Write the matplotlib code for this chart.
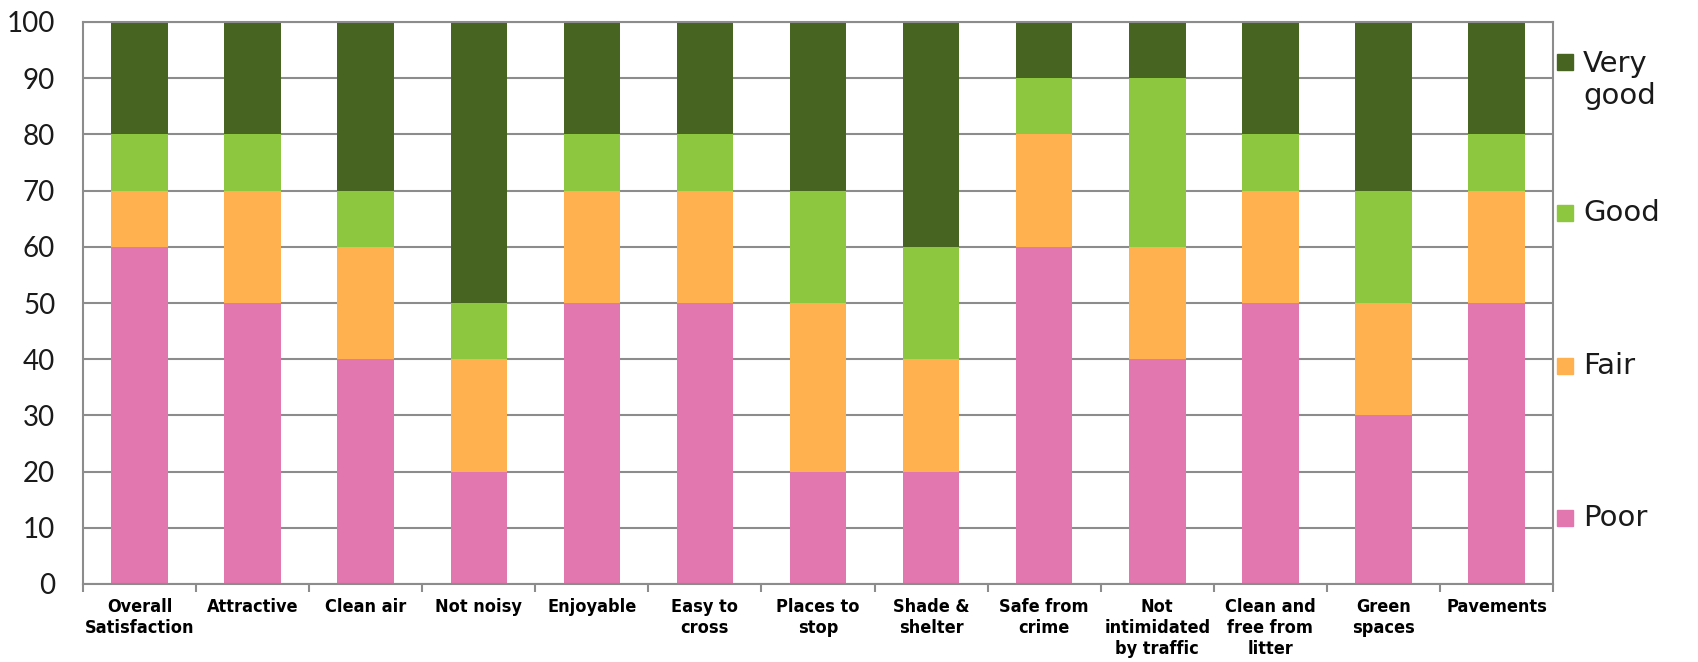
import matplotlib
matplotlib.use("Agg")
import matplotlib.pyplot as plt
from matplotlib.patches import Rectangle
import numpy as np

categories = [
    "Overall\nSatisfaction", "Attractive", "Clean air", "Not noisy", "Enjoyable",
    "Easy to\ncross", "Places to\nstop", "Shade &\nshelter", "Safe from\ncrime",
    "Not\nintimidated\nby traffic", "Clean and\nfree from\nlitter", "Green\nspaces",
    "Pavements",
]
poor = [60, 50, 40, 20, 50, 50, 20, 20, 60, 40, 50, 30, 50]
fair = [10, 20, 20, 20, 20, 20, 30, 20, 20, 20, 20, 20, 20]
good = [10, 10, 10, 10, 10, 10, 20, 20, 10, 30, 10, 20, 10]
very_good = [20, 20, 30, 50, 20, 20, 30, 40, 10, 10, 20, 30, 20]

series = [("Poor", poor, "#e276ae"), ("Fair", fair, "#ffb04f"),
          ("Good", good, "#8dc63f"), ("Very\ngood", very_good, "#476421")]

fig = plt.figure(figsize=(16.98, 6.62), dpi=100)
ax = fig.add_axes([83 / 1698, 1 - 584 / 662, 1470 / 1698, 562 / 662])

x = np.arange(len(categories))
bottom = np.zeros(len(categories))
for name, vals, color in series:
    ax.bar(x, vals, width=0.5, bottom=bottom, color=color, zorder=2)
    bottom += np.array(vals)

ax.set_xlim(-0.5, len(categories) - 0.5)
ax.set_ylim(0, 100)
ax.set_yticks(range(0, 101, 10))
ax.yaxis.grid(True, color="#8c8c8c", linewidth=1.5, zorder=0)
for s in ax.spines.values():
    s.set_color("#8c8c8c")
    s.set_linewidth(1.5)

ax.tick_params(axis="y", length=0, pad=20, labelsize=20, labelcolor="#1a1a1a")
for lbl in ax.get_yticklabels():
    lbl.set_family("Lato")

ax.set_xticks(x)
ax.set_xticklabels(categories, fontsize=13, fontweight="bold", fontstretch="condensed",
                   family=["DejaVu Sans"], linespacing=1.22)
ax.tick_params(axis="x", which="major", length=0, pad=10)
ax.set_xticks(np.arange(-0.5, len(categories), 1), minor=True)
ax.tick_params(axis="x", which="minor", length=6, width=1.5, color="#8c8c8c")

# legend drawn by hand so the two-line label hangs below its marker
leg_y = [62, 213, 366, 518]
for (name, vals, color), yp in zip(series[::-1], leg_y):
    fy = 1 - yp / 662
    fig.patches.append(Rectangle((1557 / 1698, fy - 8 / 662), 16 / 1698, 16 / 662,
                                 transform=fig.transFigure, color=color))
    n_lines = name.count("\n") + 1
    fig.text(1583 / 1698, fy - (n_lines - 1) * 18 / 662, name, fontsize=21,
             family="DejaVu Sans", color="#1a1a1a", va="center", ha="left",
             linespacing=1.2, transform=fig.transFigure)

fig.savefig("out.png", dpi=100)
